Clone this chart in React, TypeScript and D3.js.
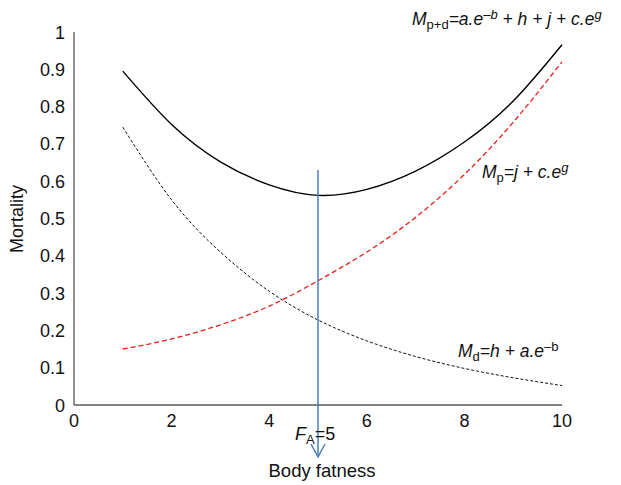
import React from "react";
import * as d3 from "d3";

// body fatness values where the curves were read
const fatness = [1, 2, 3, 4, 5, 6, 7, 8, 9, 10];
// M_d = h + a.e^-b (dotted black)
const mortalityD = [0.745, 0.55, 0.41, 0.305, 0.228, 0.172, 0.13, 0.098, 0.073, 0.052];
// M_p = j + c.e^g (red dashed)
const mortalityP = [0.15, 0.177, 0.215, 0.265, 0.333, 0.41, 0.503, 0.618, 0.758, 0.92];
// M_p+d (solid black)
const mortalityTotal = [0.895, 0.752, 0.652, 0.59, 0.562, 0.578, 0.627, 0.705, 0.815, 0.966];

const xTicks = [0, 2, 4, 6, 8, 10];
const yTicks = [0, 0.1, 0.2, 0.3, 0.4, 0.5, 0.6, 0.7, 0.8, 0.9, 1];
const optimum = 5;
const arrowTop = 0.63;

const W = 621;
const H = 485;
const font = "Liberation Sans, Arial, sans-serif";

export default function App() {
  const x = d3.scaleLinear().domain([0, 10]).range([74, 562]);
  const y = d3.scaleLinear().domain([0, 1]).range([405, 32]);

  const line = d3
    .line<number>()
    .x((_, i) => x(fatness[i]))
    .y((d) => y(d))
    .curve(d3.curveNatural);

  const ax = x(optimum);
  const tip = 457;

  return (
    <svg
      width={W}
      height={H}
      style={{ position: "absolute", left: 0, top: 0, background: "#fff" }}
      fontFamily={font}
    >
      {/* axes */}
      <line x1={x(0)} x2={x(0)} y1={y(1)} y2={y(0)} stroke="#222" strokeWidth={1} />
      <line x1={x(0)} x2={x(10)} y1={y(0)} y2={y(0)} stroke="#595959" strokeWidth={1.5} />

      {yTicks.map((t) => (
        <text key={t} x={65} y={y(t) + 6.5} fontSize={18} textAnchor="end" fill="#111">
          {d3.format("~g")(t)}
        </text>
      ))}
      {xTicks.map((t) => (
        <text key={t} x={x(t)} y={427} fontSize={18} textAnchor="middle" fill="#111">
          {t}
        </text>
      ))}

      <text
        transform={`translate(23,219) rotate(-90)`}
        fontSize={18}
        textAnchor="middle"
        fill="#111"
      >
        Mortality
      </text>
      <text x={322} y={477} fontSize={18.5} textAnchor="middle" fill="#111">
        Body fatness
      </text>

      {/* curves */}
      <path d={line(mortalityD) || ""} fill="none" stroke="#111" strokeWidth={1} strokeDasharray="3,2" />
      <path d={line(mortalityP) || ""} fill="none" stroke="#e8201b" strokeWidth={1.3} strokeDasharray="5,3" />
      <path d={line(mortalityTotal) || ""} fill="none" stroke="#000" strokeWidth={1.4} />

      {/* arrow at optimum */}
      <line x1={ax} x2={ax} y1={y(arrowTop)} y2={tip} stroke="#4a7ebb" strokeWidth={1.5} />
      <polyline
        points={`${ax - 7},${tip - 13} ${ax},${tip} ${ax + 7},${tip - 13}`}
        fill="none"
        stroke="#4a7ebb"
        strokeWidth={1.5}
      />
      <text x={295} y={440} fontSize={18} fill="#111">
        <tspan fontStyle="italic">F</tspan>
        <tspan fontSize={13} dy={4}>A</tspan>
        <tspan dy={-4}>=5</tspan>
      </text>

      {/* equations */}
      <text x={412} y={25} fontSize={17.5} fill="#111" fontStyle="italic">
        <tspan>M</tspan>
        <tspan fontSize={13} dy={4} fontStyle="normal">p+d</tspan>
        <tspan dy={-4}>=a.e</tspan>
        <tspan fontSize={13} dy={-6}>–b</tspan>
        <tspan dy={6}> + h + j + c.e</tspan>
        <tspan fontSize={13} dy={-6}>g</tspan>
      </text>
      <text x={482} y={178} fontSize={17.5} fill="#111" fontStyle="italic">
        <tspan>M</tspan>
        <tspan fontSize={13} dy={4} fontStyle="normal">p</tspan>
        <tspan dy={-4}>=j + c.e</tspan>
        <tspan fontSize={13} dy={-6}>g</tspan>
      </text>
      <text x={458} y={357} fontSize={17.5} fill="#111" fontStyle="italic">
        <tspan>M</tspan>
        <tspan fontSize={13} dy={4} fontStyle="normal">d</tspan>
        <tspan dy={-4}>=h + a.e</tspan>
        <tspan fontSize={13} dy={-6} fontStyle="normal">–b</tspan>
      </text>
    </svg>
  );
}
